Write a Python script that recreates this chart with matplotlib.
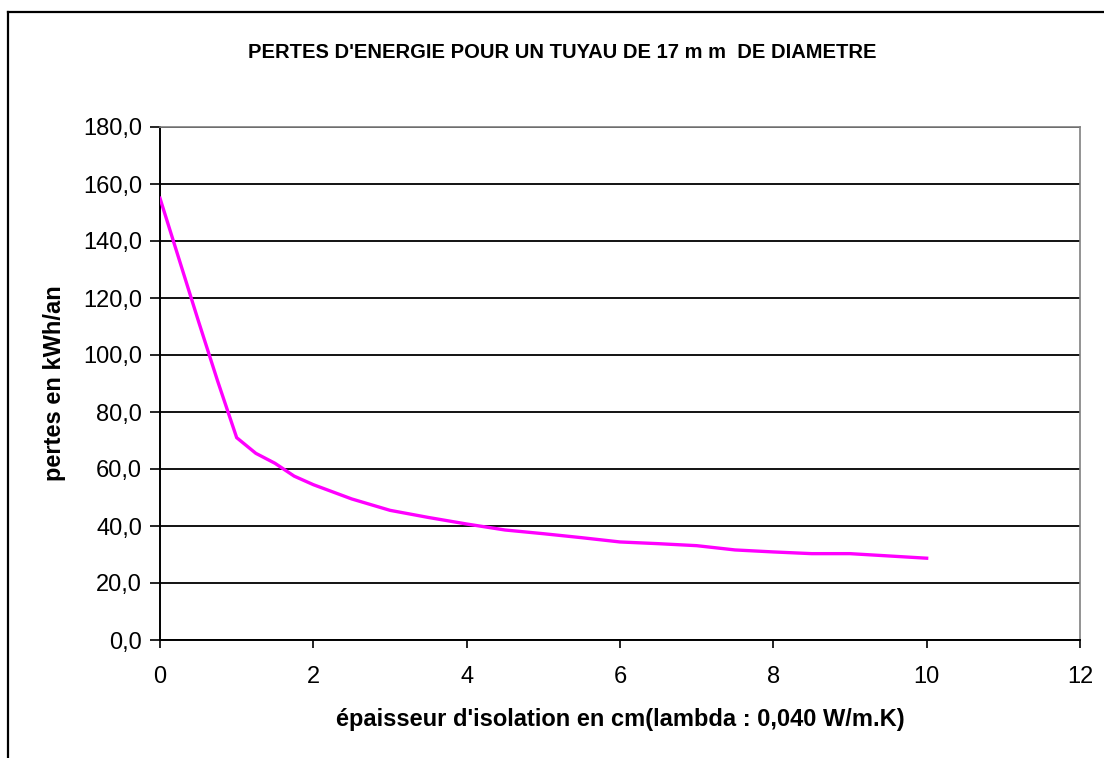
import matplotlib
matplotlib.use("Agg")
import matplotlib.pyplot as plt
from matplotlib.lines import Line2D
from matplotlib.ticker import FuncFormatter

# épaisseur d'isolant (cm) et pertes annuelles (kWh/an)
epaisseur = [0, 0.5, 0.75, 1.0, 1.25, 1.5, 1.75, 2.0, 2.5, 3.0, 3.5, 4.0,
             4.5, 5.0, 5.5, 6.0, 6.5, 7.0, 7.5, 8.0, 8.5, 9.0, 9.5, 10.0]
pertes = [155.0, 112.0, 91.0, 71.0, 65.5, 62.0, 57.5, 54.5, 49.5, 45.5, 43.0, 40.7,
          38.6, 37.3, 35.9, 34.4, 33.8, 33.1, 31.6, 30.9, 30.3, 30.3, 29.5, 28.7]

x_ticks = [0, 2, 4, 6, 8, 10, 12]
y_ticks = [0, 20, 40, 60, 80, 100, 120, 140, 160, 180]

plt.rcParams['font.family'] = ['Liberation Sans', 'DejaVu Sans']

fig = plt.figure(figsize=(11.04, 7.58), dpi=100)
ax = fig.add_axes([160 / 1104, 1 - 640 / 758, 920 / 1104, 513 / 758])

ax.plot(epaisseur, pertes, color="#FF00FF", lw=2.4, solid_joinstyle="miter", zorder=3)

ax.set_xlim(0, 12)
ax.set_ylim(0, 180)
ax.set_xticks(x_ticks)
ax.set_yticks(y_ticks)
ax.yaxis.set_major_formatter(FuncFormatter(lambda v, p: f"{v:.1f}".replace(".", ",")))

ax.grid(axis="y", color="black", lw=1.3)
ax.set_axisbelow(True)

for side in ("top", "right"):
    ax.spines[side].set_color("#808080")
    ax.spines[side].set_linewidth(1.2)
for side in ("left", "bottom"):
    ax.spines[side].set_color("black")
    ax.spines[side].set_linewidth(1.4)

ax.tick_params(axis="x", direction="out", length=6, width=1.2, pad=13, labelsize=17)
ax.tick_params(axis="y", direction="out", length=7, width=1.2, pad=6, labelsize=17)

ax.set_xlabel("épaisseur d'isolation en cm(lambda : 0,040 W/m.K)", fontsize=17,
              fontweight="bold", labelpad=14)
ax.set_ylabel("pertes en kWh/an", fontsize=17, fontweight="bold", labelpad=12)

fig.text(562 / 1104, 1 - 52 / 758, "PERTES D'ENERGIE POUR UN TUYAU DE 17 m m  DE DIAMETRE",
         ha="center", va="center", fontsize=14.5, fontweight="bold")

# cadre du graphique
fig.add_artist(Line2D([8 / 1104, 8 / 1104], [-0.05, 1 - 12 / 758], transform=fig.transFigure,
                      color="black", lw=1.6))
fig.add_artist(Line2D([8 / 1104, 1.05], [1 - 12 / 758, 1 - 12 / 758], transform=fig.transFigure,
                      color="black", lw=1.6))

fig.savefig("out.png", dpi=100)
